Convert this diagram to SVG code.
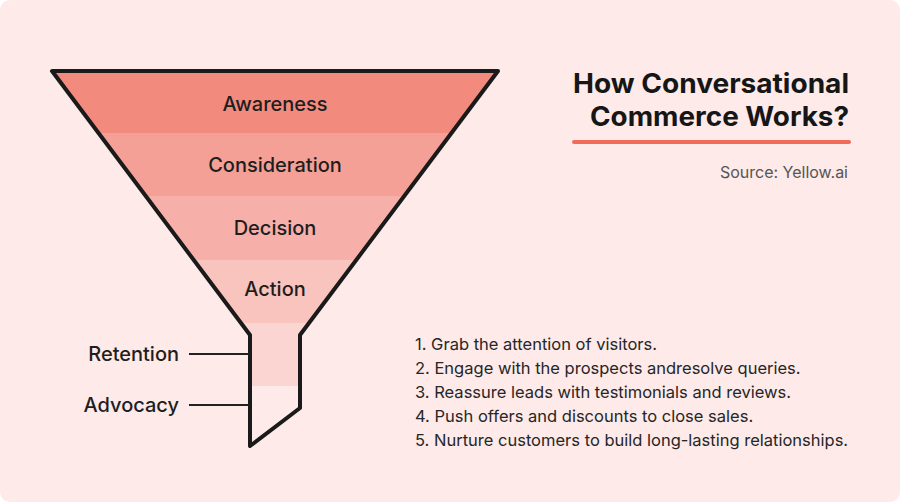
<svg xmlns="http://www.w3.org/2000/svg" width="900" height="502" viewBox="0 0 900 502">
<style>
.lbl{font-family:"Inter","Lato","Liberation Sans",sans-serif;font-size:20px;font-weight:500;fill:#1e1e1e;text-anchor:middle}
.side{font-family:"Inter","Lato","Liberation Sans",sans-serif;font-size:20px;font-weight:500;fill:#1e1e1e;text-anchor:end}
.title{font-family:"Inter","Lato","Liberation Sans",sans-serif;font-size:27px;font-weight:700;fill:#161616;text-anchor:end}
.src{font-family:"Inter","Lato","Liberation Sans",sans-serif;font-size:16px;fill:#555;text-anchor:end}
.item{font-family:"Inter","Lato","Liberation Sans",sans-serif;font-size:16.5px;fill:#262626}
.conn{stroke:#222;stroke-width:2;fill:none}
</style>
<defs>
<clipPath id="funnelClip">
<path d="M52,71 L498,71 L300,335 L300,408 L250,446 L250,335 Z"/>
</clipPath>
</defs>
<rect x="0" y="0" width="900" height="502" fill="#ffffff"/>
<rect x="0" y="0" width="900" height="502" rx="10" fill="#fdeae9"/>
<g id="funnel">
<g clip-path="url(#funnelClip)">
<rect x="40" y="60" width="470" height="73" fill="#f28b7e"/>
<rect x="40" y="133" width="470" height="63" fill="#f5a097"/>
<rect x="40" y="196" width="470" height="64" fill="#f7b0a9"/>
<rect x="40" y="260" width="470" height="63" fill="#f9c3be"/>
<rect x="40" y="323" width="470" height="63" fill="#fad5d1"/>
<rect x="40" y="386" width="470" height="70" fill="#fdeae9"/>
</g>
<path d="M52,71 L498,71 L300,335 L300,408 L250,446 L250,335 Z" fill="none" stroke="#1a1a1a" stroke-width="4" stroke-linejoin="round"/>
</g>
<g id="awareness"><text class="lbl" x="275" y="111">Awareness</text></g>
<g id="consideration"><text class="lbl" x="275" y="172">Consideration</text></g>
<g id="decision"><text class="lbl" x="275" y="235">Decision</text></g>
<g id="action"><text class="lbl" x="275" y="296">Action</text></g>
<g id="retention"><text class="side" x="179" y="361">Retention</text></g>
<g id="advocacy"><text class="side" x="179" y="412">Advocacy</text></g>
<g id="connectors">
<line class="conn" x1="189" y1="354" x2="249" y2="354"/>
<line class="conn" x1="189" y1="405" x2="249" y2="405"/>
</g>
<g id="title">
<text class="title" x="849" y="93" textLength="276" lengthAdjust="spacingAndGlyphs">How Conversational</text>
<text class="title" x="849" y="126" textLength="259" lengthAdjust="spacingAndGlyphs">Commerce Works?</text>
<line x1="574" y1="142" x2="849" y2="142" stroke="#f26a5a" stroke-width="4" stroke-linecap="round"/>
<text class="src" x="848" y="178">Source: Yellow.ai</text>
</g>
<g id="steps">
<text class="item" x="415" y="350">1. Grab the attention of visitors.</text>
<text class="item" x="415" y="374">2. Engage with the prospects andresolve queries.</text>
<text class="item" x="415" y="398">3. Reassure leads with testimonials and reviews.</text>
<text class="item" x="415" y="422">4. Push offers and discounts to close sales.</text>
<text class="item" x="415" y="446">5. Nurture customers to build long-lasting relationships.</text>
</g>
</svg>
